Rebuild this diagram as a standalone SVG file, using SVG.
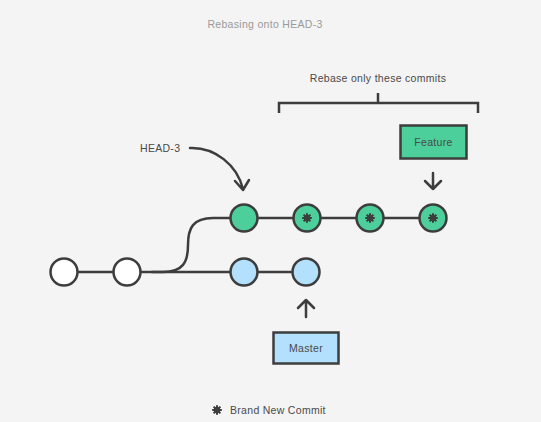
<svg xmlns="http://www.w3.org/2000/svg" width="541" height="422" viewBox="0 0 541 422">
<defs>
<style>
.bg{fill:#f4f4f4}
.ln{fill:none;stroke:#3d3d3d;stroke-width:2.5;stroke-linecap:round;stroke-linejoin:round}
.sq{fill:none;stroke:#3d3d3d;stroke-width:2.5;stroke-linecap:butt}
.nd{stroke:#3d3d3d;stroke-width:2.5}
.w{fill:#ffffff}
.g{fill:#4ccf9b}
.b{fill:#b3e0fd}
.t{font-family:"Liberation Sans",Arial,sans-serif;font-size:10.5px;fill:#4a4a4a;letter-spacing:0.3px}
.tt{font-family:"Liberation Sans",Arial,sans-serif;font-size:10.5px;fill:#9a9a9a;letter-spacing:0.3px}
</style>
<g id="star">
<circle r="3.2" fill="#3d3d3d"/>
<path d="M0,-4.8V4.8M-4.8,0H4.8M-3.4,-3.4L3.4,3.4M-3.4,3.4L3.4,-3.4" stroke="#3d3d3d" stroke-width="2" fill="none"/>
</g>
</defs>
<rect class="bg" x="0" y="0" width="541" height="422"/>
<text class="tt" x="265" y="28" text-anchor="middle">Rebasing onto HEAD-3</text>
<text class="t" x="378" y="82" text-anchor="middle">Rebase only these commits</text>
<g id="connectors">
<path class="sq" d="M279,113V103H478V113M378,103V93"/>
<path class="ln" d="M78,272H113M141,272H230M258,272H292"/>
<path class="ln" d="M152,272H163C183,272 188,262 188,245C188,228 193,218 213,218H230M258,218H293M321,218H356M384,218H419"/>
<path class="ln" d="M190,148C215,147 237,165 243,189M235,181L243,190L249,180"/>
<path class="ln" d="M433,173V189M425,181L433,189L441,181"/>
<path class="ln" d="M306,317V300M298,308L306,300L314,308"/>
</g>
<g id="c1"><circle class="nd w" cx="64" cy="272" r="13.5"/></g>
<g id="c2"><circle class="nd w" cx="127" cy="272" r="13.5"/></g>
<g id="m1"><circle class="nd b" cx="244" cy="272" r="13.5"/></g>
<g id="m2"><circle class="nd b" cx="306" cy="272" r="13.5"/></g>
<g id="h3"><circle class="nd g" cx="244" cy="218" r="13.5"/></g>
<g id="n1"><circle class="nd g" cx="307" cy="218" r="13.5"/><use href="#star" x="307" y="218"/></g>
<g id="n2"><circle class="nd g" cx="370" cy="218" r="13.5"/><use href="#star" x="370" y="218"/></g>
<g id="n3"><circle class="nd g" cx="433" cy="218" r="13.5"/><use href="#star" x="433" y="218"/></g>
<g id="feature"><rect class="nd g" x="400.5" y="125.5" width="66" height="33"/><text class="t" x="433.5" y="146" text-anchor="middle">Feature</text></g>
<g id="master"><rect class="nd b" x="273.5" y="332.5" width="65" height="31"/><text class="t" x="306" y="352" text-anchor="middle">Master</text></g>
<g id="head3"><text class="t" x="140" y="152">HEAD-3</text></g>
<g id="legend"><use href="#star" x="217" y="410"/><text class="t" x="230" y="414">Brand New Commit</text></g>
</svg>
